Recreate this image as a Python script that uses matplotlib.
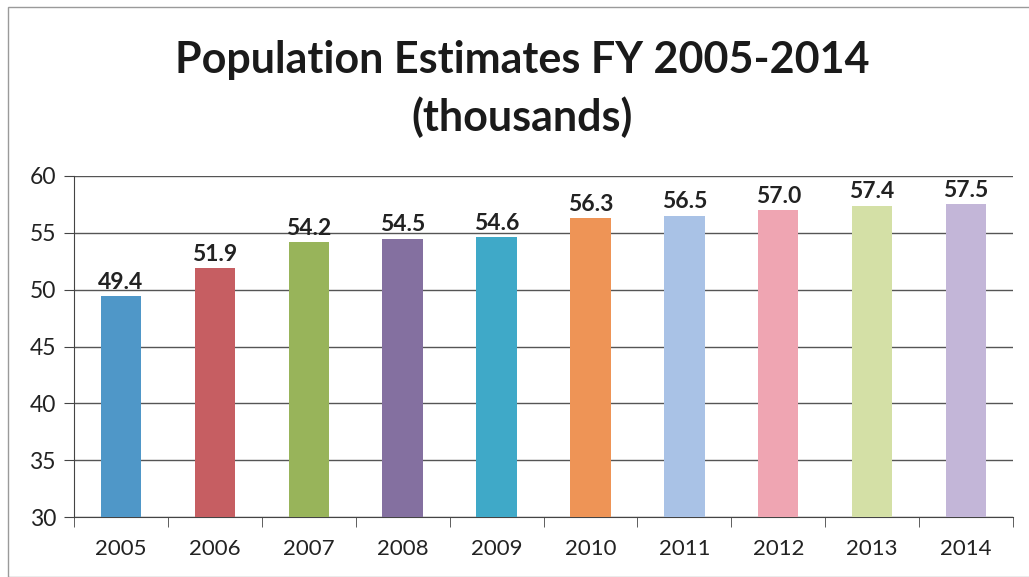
import matplotlib
matplotlib.use("Agg")
import matplotlib.pyplot as plt
from matplotlib.patches import Rectangle

years = ["2005", "2006", "2007", "2008", "2009", "2010", "2011", "2012", "2013", "2014"]
population = [49.4, 51.9, 54.2, 54.5, 54.6, 56.3, 56.5, 57.0, 57.4, 57.5]
bar_colors = ["#4F97C8", "#C65E62", "#98B45A", "#8470A0", "#3FA9C8",
              "#EE9456", "#A9C2E6", "#EFA5B2", "#D4E0A6", "#C3B6D8"]
y_ticks = [30, 35, 40, 45, 50, 55, 60]

plt.rcParams['font.family'] = ['Lato', 'DejaVu Sans']

fig = plt.figure(figsize=(10.29, 5.77), dpi=100)
fig.patch.set_facecolor("white")
fig.add_artist(Rectangle((8 / 1029, 0.0), 1.0, 1 - 7 / 577, transform=fig.transFigure,
                         fill=False, edgecolor="#9a9a9a", linewidth=1.0))

ax = fig.add_axes([74 / 1029, 1 - 517 / 577, (1013 - 74) / 1029, (517 - 176) / 577])
x = list(range(len(years)))
ax.bar(x, population, width=0.43, color=bar_colors, zorder=3)

for xi, v in zip(x, population):
    ax.text(xi, v + 0.3, f"{v:.1f}", ha="center", va="bottom",
            fontsize=16.5, fontweight="bold", color="#222222")

ax.set_ylim(30, 60)
ax.set_xlim(-0.5, len(years) - 0.5)
ax.set_yticks(y_ticks)
ax.set_yticklabels([str(t) for t in y_ticks], fontsize=16.5, color="#222222")
ax.yaxis.grid(True, color="#555555", linewidth=1.0, zorder=0)
ax.set_axisbelow(True)

ax.set_xticks(x)
ax.set_xticklabels(years, fontsize=16, color="#222222")
ax.tick_params(axis="x", length=0, pad=16)
ax.set_xticks([i + 0.5 for i in range(-1, len(years))], minor=True)
ax.tick_params(axis="x", which="minor", length=7, direction="out", color="#444444")
ax.tick_params(axis="y", length=7, direction="out", color="#444444", pad=6)

for side in ["top", "right"]:
    ax.spines[side].set_visible(False)
ax.spines["left"].set_color("#444444")
ax.spines["bottom"].set_color("#444444")

fig.text(522 / 1029, 1 - 60 / 577, "Population Estimates FY 2005-2014",
         ha="center", va="center", fontsize=31, fontweight="bold", color="#1a1a1a")
fig.text(522 / 1029, 1 - 117 / 577, "(thousands)",
         ha="center", va="center", fontsize=31, fontweight="bold", color="#1a1a1a")

fig.savefig("out.png", dpi=100)
